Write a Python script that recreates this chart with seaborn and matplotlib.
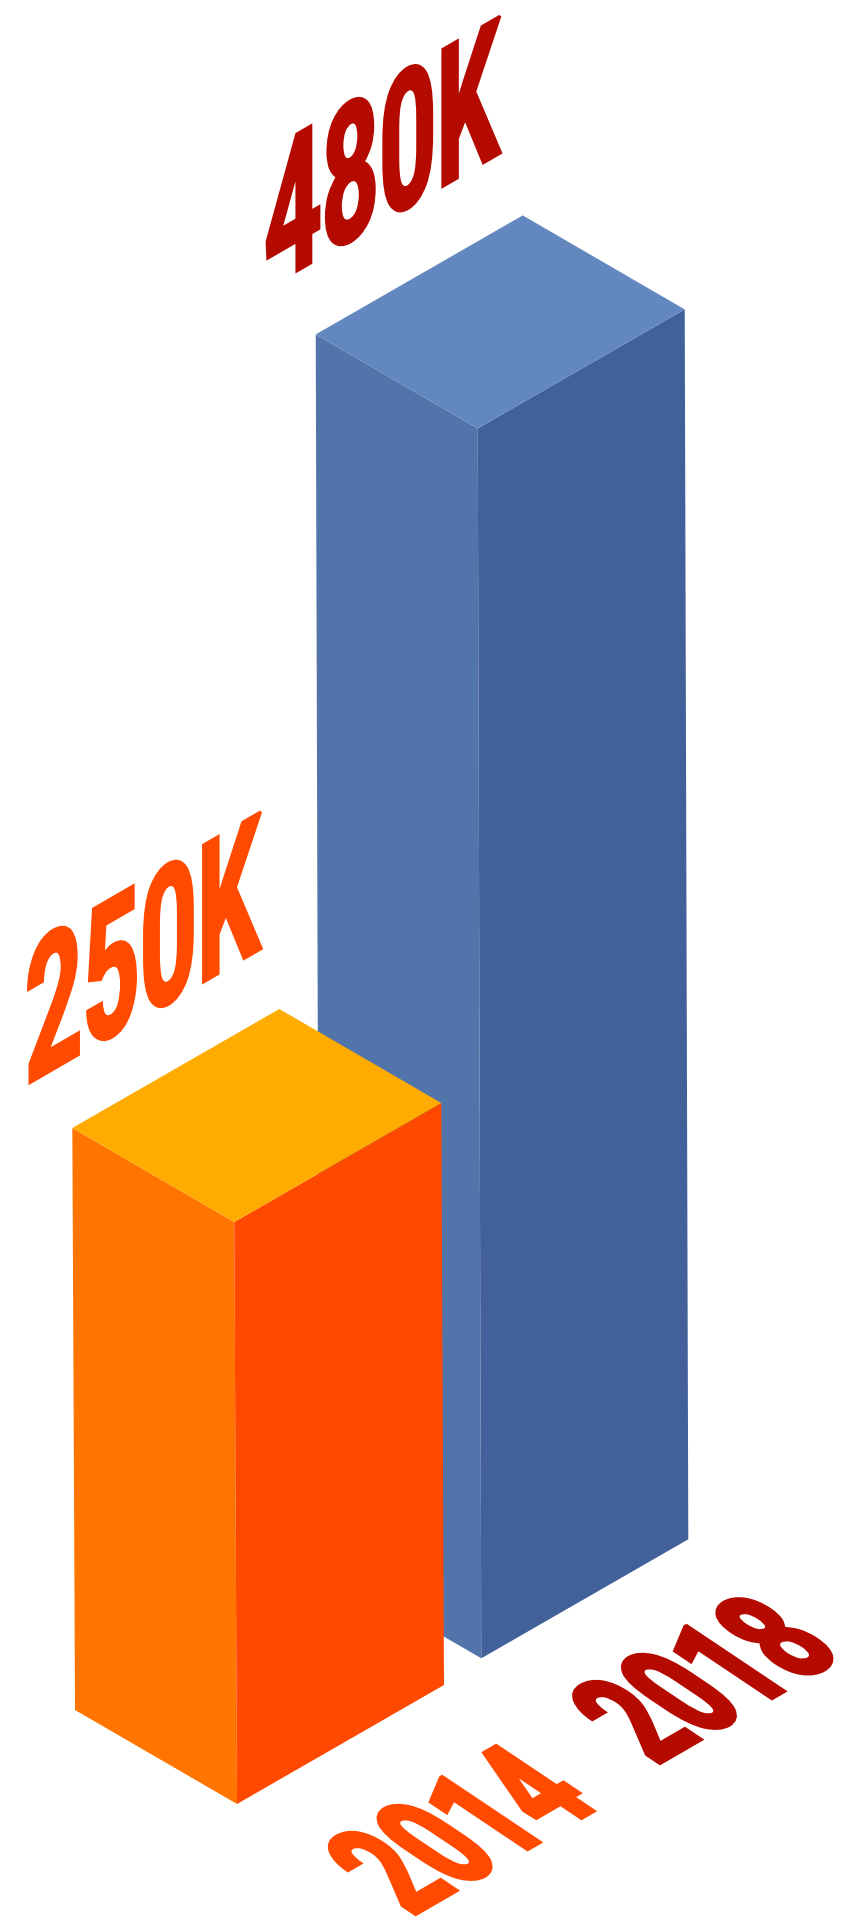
import numpy as np
import pandas as pd
import seaborn as sns
import matplotlib
matplotlib.use("Agg")
import matplotlib.pyplot as plt
from matplotlib.patheffects import AbstractPathEffect
from matplotlib.transforms import Affine2D

# Dados ------------------------------------------------------------------------

years = ["2014", "2018"]
values = [250, 480]

top_colors = ["#FFAB00", "#6288BF"]
left_colors = ["#FF7500", "#5174AA"]
right_colors = ["#FF4800", "#42609A"]
value_colors = ["#FF4A00", "#B50A00"]
year_colors = ["#FF4A00", "#B50A00"]

df = pd.DataFrame({"year": years, "value": values})

# Layout (pixels da imagem) ----------------------------------------------------

axis_floor = 43.4
px_per_k = 2.817
front_base = [(237, 1804), (481.3, 1658.3)]
lean = [0.0046, 0.0029]
left_edge = np.array([162, 94])
right_edge = np.array([207, -119])

value_anchor = [(25, 1085.7), (264.3, 290)]
year_anchor = [(411.7, 1916.3), (656, 1765.3)]

df["height"] = df["value"] - axis_floor
df["unit"] = 1

# Texto inclinado --------------------------------------------------------------

class SkewText(AbstractPathEffect):
  def __init__(self, ax, anchor, along, up, stroke):
    self.ax = ax
    self.anchor = anchor
    self.stroke = stroke
    self.matrix = [[along[0], up[0], 0], [-along[1], -up[1], 0], [0, 0, 1]]

  def draw_path(self, renderer, gc, tpath, affine, rgbFace = None):
    x0, y0 = self.ax.transData.transform(self.anchor)
    skew = Affine2D().translate(-x0, -y0) + Affine2D(np.array(self.matrix, dtype = float)) + Affine2D().translate(x0, y0)
    # o contorno engrossa a letra, a fonte original e mais pesada
    gc0 = renderer.new_gc()
    gc0.copy_properties(gc)
    gc0.set_linewidth(self.stroke)
    gc0.set_foreground(rgbFace)
    gc0.set_joinstyle("miter")
    renderer.draw_path(gc0, tpath, affine + skew, rgbFace)
    gc0.restore()

# Plot -------------------------------------------------------------------------

sns.set_theme(style = "white")
plt.rcParams["font.family"] = ["Roboto", "DejaVu Sans"]

fig = plt.figure(figsize = (8.44, 19.2), dpi = 100)
ax = fig.add_axes([0, 0, 1, 1])

def face(origin, u, v, i):
  shift = np.array(origin) - (i - 0.5) * np.array(u)
  return Affine2D(np.array([[u[0], v[0], shift[0]], [u[1], v[1], shift[1]], [0, 0, 1]], dtype = float))

def draw_face(y, colors, place):
  n = len(ax.patches)
  sns.barplot(data = df, x = "year", y = y, order = years, width = 1, errorbar = None, ax = ax)
  for i, patch in enumerate(ax.patches[n:]):
    patch.set_transform(place(i) + ax.transData)
    patch.set_facecolor(colors[i])
    patch.set_edgecolor("none")
    # o bloco de 2014 fica na frente do bloco de 2018
    patch.set_zorder(2 - i)

def up_vector(i):
  return np.array([-lean[i] * px_per_k, -px_per_k])

draw_face("height", left_colors, lambda i: face(np.array(front_base[i]) - left_edge, left_edge, up_vector(i), i))
draw_face("height", right_colors, lambda i: face(front_base[i], right_edge, up_vector(i), i))
draw_face("unit", top_colors, lambda i: face(np.array(front_base[i]) - left_edge + up_vector(i) * df["height"][i], left_edge, right_edge, i))

ax.set_xlim(0, 844)
ax.set_ylim(1920, 0)
ax.axis("off")

for i, value in enumerate(values):
  ax.text(*value_anchor[i], f"{value}K", color = value_colors[i], fontsize = 72, fontweight = "bold",
          ha = "left", va = "baseline", zorder = 5,
          path_effects = [SkewText(ax, value_anchor[i], (1.0, -0.58), (0, -1.93), 2.0)])

for i, year in enumerate(years):
  ax.text(*year_anchor[i], year, color = year_colors[i], fontsize = 72, fontweight = "bold",
          ha = "left", va = "baseline", zorder = 5,
          path_effects = [SkewText(ax, year_anchor[i], (0.83, -0.481), (-1.366, -0.915), 3.0)])

fig.savefig("out.png", dpi = 100, facecolor = "white")
